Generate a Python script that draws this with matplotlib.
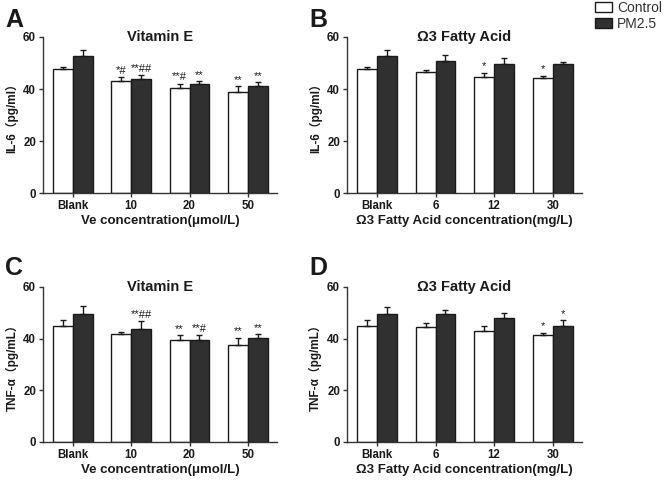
import matplotlib
matplotlib.use('Agg')
import matplotlib.pyplot as plt
from matplotlib.patches import Patch
import numpy as np


plt.rcParams['font.family'] = ['Liberation Sans', 'Noto Sans CJK SC', 'DejaVu Sans']

dark = '#303030'
ink = '#1a1a1a'

veGroups = ['Blank', '10', '20', '50']
o3Groups = ['Blank', '6', '12', '30']

# IL-6, vitamin E
aCtrl = [47.6, 43.2, 40.3, 38.7]
aCtrlErr = [0.9, 1.3, 1.7, 2.4]
aPm = [52.8, 44.0, 42.0, 41.2]
aPmErr = [2.3, 1.3, 0.9, 1.4]
aCtrlMarks = ['', '*#', '**#', '**']
aPmMarks = ['', '**##', '**', '**']

# IL-6, omega-3
bCtrl = [47.7, 46.4, 44.5, 44.1]
bCtrlErr = [0.9, 0.9, 1.7, 1.0]
bPm = [52.8, 50.9, 49.5, 49.5]
bPmErr = [2.3, 2.0, 2.4, 0.9]
bCtrlMarks = ['', '', '*', '*']
bPmMarks = ['', '', '', '']

# TNF-a, vitamin E
cCtrl = [45.0, 41.8, 39.6, 37.4]
cCtrlErr = [2.1, 0.9, 1.7, 3.0]
cPm = [49.5, 43.9, 39.6, 40.1]
cPmErr = [3.0, 2.9, 1.7, 1.6]
cCtrlMarks = ['', '', '**', '**']
cPmMarks = ['', '**##', '**#', '**']

# TNF-a, omega-3
dCtrl = [45.0, 44.4, 42.8, 41.5]
dCtrlErr = [2.1, 1.7, 2.1, 0.7]
dPm = [49.5, 49.5, 48.0, 45.0]
dPmErr = [2.9, 1.6, 1.9, 2.1]
dCtrlMarks = ['', '', '', '*']
dPmMarks = ['', '', '', '*']


def drawPanel(ax, groups, ctrl, ctrlErr, pm, pmErr, ctrlMarks, pmMarks,
              title, xlabel, ylabel):
    x = np.arange(len(groups))
    w = 0.34
    zeros = np.zeros(len(groups))
    ax.bar(x - w / 2, ctrl, w, color='white', edgecolor=ink, linewidth=1.0, zorder=2)
    ax.bar(x + w / 2, pm, w, color=dark, edgecolor=ink, linewidth=1.0, zorder=2)
    ax.errorbar(x - w / 2, ctrl, yerr=[zeros, ctrlErr], fmt='none', ecolor=ink,
                elinewidth=1.0, capsize=2.2, capthick=1.0, zorder=3)
    ax.errorbar(x + w / 2, pm, yerr=[zeros, pmErr], fmt='none', ecolor=ink,
                elinewidth=1.0, capsize=2.2, capthick=1.0, zorder=3)

    for i in range(len(groups)):
        if ctrlMarks[i]:
            ax.text(x[i] - w / 2, ctrl[i] + ctrlErr[i] + 0.6, ctrlMarks[i],
                    ha='center', va='bottom', fontsize=8, color=ink)
        if pmMarks[i]:
            ax.text(x[i] + w / 2, pm[i] + pmErr[i] + 0.6, pmMarks[i],
                    ha='center', va='bottom', fontsize=8, color=ink)

    ax.set_xlim(-0.51, 3.5)
    ax.set_ylim(0, 60)
    ax.set_yticks([0, 20, 40, 60])
    ax.set_xticks(x)
    ax.set_xticklabels(groups)
    for s in ['top', 'right']:
        ax.spines[s].set_visible(False)
    for s in ['left', 'bottom']:
        ax.spines[s].set_color('#333333')
        ax.spines[s].set_linewidth(1.0)
    ax.tick_params(axis='both', direction='out', length=3, width=1.0,
                   color='#333333', labelsize=8.3, labelcolor=ink, pad=2)
    for lab in ax.get_xticklabels() + ax.get_yticklabels():
        lab.set_fontweight('bold')

    ax.text(0.5, 0.975, title, transform=ax.transAxes, ha='center', va='baseline',
            fontsize=10.5, fontweight='bold', color=ink)
    ax.set_xlabel(xlabel, fontsize=9.5, fontweight='bold', color=ink, labelpad=2)
    ax.set_ylabel(ylabel, fontsize=8.5, fontweight='bold', color=ink)
    ax.yaxis.set_label_coords(-0.105, 0.5)


fig = plt.figure(figsize=(6.66, 4.83), dpi=100)

axA = fig.add_axes([0.0646, 0.6004, 0.3514, 0.323])
axB = fig.add_axes([0.521, 0.6004, 0.353, 0.323])
axC = fig.add_axes([0.0646, 0.0849, 0.3514, 0.321])
axD = fig.add_axes([0.521, 0.0849, 0.353, 0.321])

drawPanel(axA, veGroups, aCtrl, aCtrlErr, aPm, aPmErr, aCtrlMarks, aPmMarks,
          'Vitamin E', 'Ve concentration(μmol/L)', 'IL-6（pg/ml）')
drawPanel(axB, o3Groups, bCtrl, bCtrlErr, bPm, bPmErr, bCtrlMarks, bPmMarks,
          'Ω3 Fatty Acid', 'Ω3 Fatty Acid concentration(mg/L)', 'IL-6（pg/ml）')
drawPanel(axC, veGroups, cCtrl, cCtrlErr, cPm, cPmErr, cCtrlMarks, cPmMarks,
          'Vitamin E', 'Ve concentration(μmol/L)', 'TNF-α（pg/mL）')
drawPanel(axD, o3Groups, dCtrl, dCtrlErr, dPm, dPmErr, dCtrlMarks, dPmMarks,
          'Ω3 Fatty Acid', 'Ω3 Fatty Acid concentration(mg/L)', 'TNF-α（pg/mL）')

# panel letters
for letter, lx, ly in [('A', 0.0075, 0.944), ('B', 0.465, 0.944),
                       ('C', 0.0075, 0.431), ('D', 0.465, 0.431)]:
    fig.text(lx, ly, letter, fontsize=18, fontweight='bold', color=ink, va='baseline')

handles = [Patch(facecolor='white', edgecolor=ink, linewidth=1.0),
           Patch(facecolor=dark, edgecolor=ink, linewidth=1.0)]
fig.legend(handles, ['Control', 'PM2.5'], loc='upper left',
           bbox_to_anchor=(595 / 666, 1 - 1 / 483), frameon=False, fontsize=10,
           handlelength=1.2, handleheight=0.7, handletextpad=0.4,
           labelspacing=0.15, borderpad=0, borderaxespad=0, labelcolor='#333333')

plt.savefig('out.png', dpi=100)
plt.close()
